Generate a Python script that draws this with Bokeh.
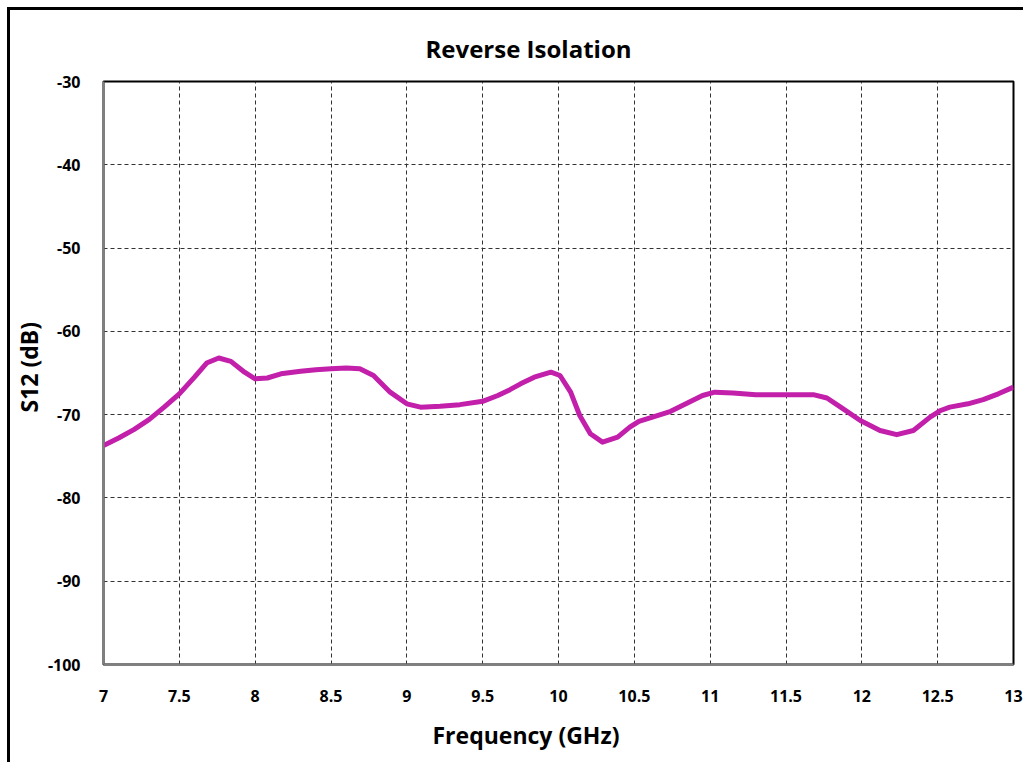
from bokeh.plotting import figure
from bokeh.models import Range1d, FixedTicker, Title
from bokeh.embed import file_html
from bokeh.resources import INLINE

# Reverse isolation S12 (dB) versus frequency (GHz)
freq_ghz = [7.0, 7.1, 7.2, 7.3, 7.4, 7.5, 7.6, 7.68, 7.76, 7.84, 7.93, 8.0, 8.08, 8.17,
            8.3, 8.4, 8.5, 8.6, 8.69, 8.78, 8.89, 9.0, 9.09, 9.22, 9.35, 9.5, 9.6, 9.68,
            9.75, 9.84, 9.95, 10.01, 10.08, 10.14, 10.21, 10.29, 10.39, 10.47, 10.53,
            10.62, 10.74, 10.85, 10.95, 11.03, 11.15, 11.3, 11.5, 11.68, 11.77, 11.86,
            11.99, 12.12, 12.23, 12.34, 12.45, 12.52, 12.58, 12.7, 12.8, 12.9, 13.0]
s12_db = [-73.7, -72.8, -71.8, -70.6, -69.1, -67.5, -65.5, -63.8, -63.2, -63.6, -64.9,
          -65.7, -65.6, -65.1, -64.8, -64.6, -64.5, -64.4, -64.5, -65.3, -67.3, -68.7,
          -69.1, -69.0, -68.8, -68.4, -67.7, -67.0, -66.3, -65.5, -64.9, -65.3, -67.3,
          -70.1, -72.3, -73.3, -72.7, -71.5, -70.8, -70.3, -69.6, -68.6, -67.7, -67.3,
          -67.4, -67.6, -67.6, -67.6, -68.0, -69.1, -70.7, -71.9, -72.4, -71.9, -70.3,
          -69.5, -69.1, -68.7, -68.2, -67.5, -66.7]

x_ticks = [7, 7.5, 8, 8.5, 9, 9.5, 10, 10.5, 11, 11.5, 12, 12.5, 13]
y_ticks = [-100, -90, -80, -70, -60, -50, -40, -30]

FONT = "Open Sans"

p = figure(width=1016, height=755, output_backend="svg", toolbar_location=None,
           x_range=Range1d(7, 13), y_range=Range1d(-100, -30),
           min_border_left=93, min_border_right=13, min_border_top=71, min_border_bottom=101,
           title=None)

# chart frame: only its left and top edges fit on the page
p.styles = {"margin-left": "7px", "margin-top": "7px",
            "border-left": "3px solid black", "border-top": "3px solid black"}

p.line(freq_ghz, s12_db, line_color="#C21FAA", line_width=5, line_join="round")

for ax in (p.xaxis[0], p.yaxis[0]):
    ax.major_tick_line_color = None
    ax.minor_tick_line_color = None
    ax.axis_line_color = "#808080"
    ax.axis_line_width = 2
    ax.major_label_text_font = FONT
    ax.major_label_text_font_style = "bold"
    ax.major_label_text_font_size = "16px"
    ax.major_label_text_color = "black"

p.xaxis.ticker = FixedTicker(ticks=x_ticks)
p.yaxis.ticker = FixedTicker(ticks=y_ticks)
p.xaxis.major_label_overrides = {t: f"{t:g}" for t in x_ticks}
p.yaxis.major_label_overrides = {t: f"{t:d}" for t in y_ticks}
p.xaxis.major_label_standoff = 19
p.yaxis.major_label_standoff = 17

for g in (p.xgrid[0], p.ygrid[0]):
    g.grid_line_color = "#333333"
    g.grid_line_dash = "4 3"
    g.grid_line_width = 1

p.outline_line_color = "black"
p.outline_line_width = 2
p.outline_line_alpha = 1
p.background_fill_color = "white"
p.border_fill_color = "white"

# titles: chart title, x-axis title below, y-axis title at left
p.add_layout(Title(text="Reverse Isolation", text_font=FONT, text_font_style="bold",
                   text_font_size="24px", text_color="black",
                   align="left", offset=322, standoff=33), "above")
p.add_layout(Title(text="Frequency (GHz)", text_font=FONT, text_font_style="bold",
                   text_font_size="23px", text_color="black",
                   align="left", offset=329, standoff=25), "below")
p.add_layout(Title(text="S12 (dB)", text_font=FONT, text_font_style="bold",
                   text_font_size="23px", text_color="black",
                   align="left", offset=252, standoff=0), "left")

open("out.html", "w").write(file_html(p, INLINE))
